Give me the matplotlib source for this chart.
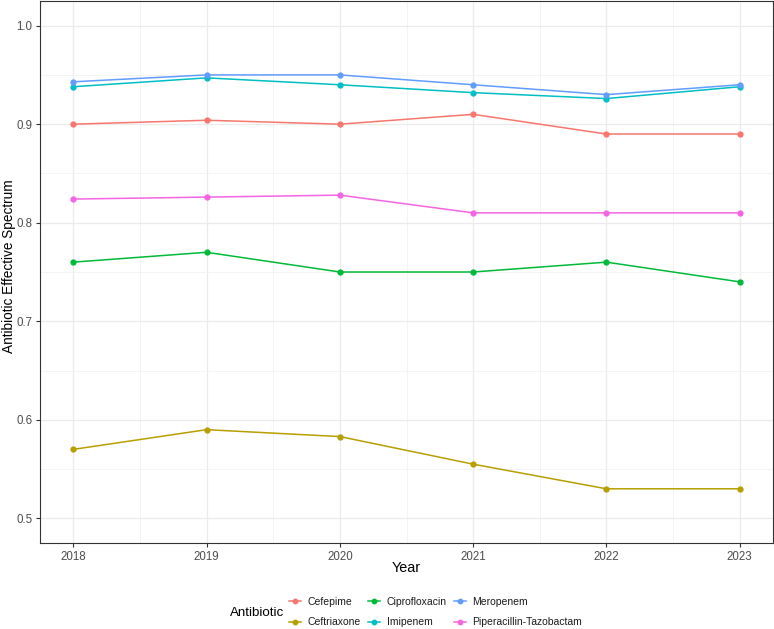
import matplotlib
matplotlib.use("Agg")
import matplotlib.pyplot as plt
from matplotlib.lines import Line2D
import numpy as np

plt.rcParams['font.family'] = ['Liberation Sans', 'DejaVu Sans']

years = [2018, 2019, 2020, 2021, 2022, 2023]
antibiotics = ["Cefepime", "Ceftriaxone", "Ciprofloxacin", "Imipenem", "Meropenem", "Piperacillin-Tazobactam"]
cefepime = [0.90, 0.904, 0.90, 0.91, 0.89, 0.89]
ceftriaxone = [0.57, 0.59, 0.583, 0.555, 0.53, 0.53]
ciprofloxacin = [0.76, 0.77, 0.75, 0.75, 0.76, 0.74]
imipenem = [0.938, 0.947, 0.94, 0.932, 0.926, 0.938]
meropenem = [0.943, 0.95, 0.95, 0.94, 0.93, 0.94]
piptazo = [0.824, 0.826, 0.828, 0.81, 0.81, 0.81]
colors = ["#F8766D", "#B79F00", "#00BA38", "#00BFC4", "#619CFF", "#F564E3"]
series = [cefepime, ceftriaxone, ciprofloxacin, imipenem, meropenem, piptazo]

W, H = 774, 629
fig = plt.figure(figsize=(W/100, H/100), dpi=100)
aw = (773-40)/W
ax = fig.add_axes([40/W, 1 - 543/H, aw, (543-1)/H])

for name, vals, c in zip(antibiotics, series, colors):
    ax.plot(years, vals, color=c, lw=1.1, marker='o', ms=3.5, label=name, zorder=3)

ax.set_xlim(2018 - 0.25, 2023 + 0.25)
ax.set_ylim(0.475, 1.025)
ax.set_xticks(years)
ax.set_yticks([0.5, 0.6, 0.7, 0.8, 0.9, 1.0])
ax.set_yticklabels(["0.5", "0.6", "0.7", "0.8", "0.9", "1.0"])
ax.set_xticks([2018.5, 2019.5, 2020.5, 2021.5, 2022.5], minor=True)
ax.set_yticks([0.55, 0.65, 0.75, 0.85, 0.95], minor=True)
ax.grid(which='major', color='#EBEBEB', lw=0.9, zorder=0)
ax.grid(which='minor', color='#F2F2F2', lw=0.6, zorder=0)
ax.set_axisbelow(True)
ax.tick_params(which='major', length=3, width=0.8, color='#333333', labelsize=8.3, labelcolor='#4D4D4D', pad=2.5)
ax.tick_params(which='minor', length=0)
for s in ax.spines.values():
    s.set_color('#333333')
    s.set_linewidth(0.8)

ax.set_xlabel("Year", fontsize=10.4, color='black', labelpad=-1)
ax.set_ylabel("Antibiotic Effective Spectrum", fontsize=9.8, color='black')
ax.yaxis.label.set_verticalalignment('center')
ax.yaxis.set_label_coords(-31/(773-40), 0.51)

handles = [Line2D([0], [0], color=c, lw=1.1, marker='o', ms=3.2) for c in colors]
leg = fig.legend(handles, antibiotics, ncol=3, loc='center left', bbox_to_anchor=(289/W, 1 - 612/H),
                 frameon=False, fontsize=7.5, handlelength=1.15, columnspacing=0.75,
                 labelspacing=1.05, handletextpad=0.6, borderaxespad=0, borderpad=0)
for t in leg.get_texts():
    t.set_color('#1A1A1A')
fig.text(230/W, 1 - 613/H, "Antibiotic", fontsize=9.6, va='center', ha='left')

fig.savefig("out.png", dpi=100)
